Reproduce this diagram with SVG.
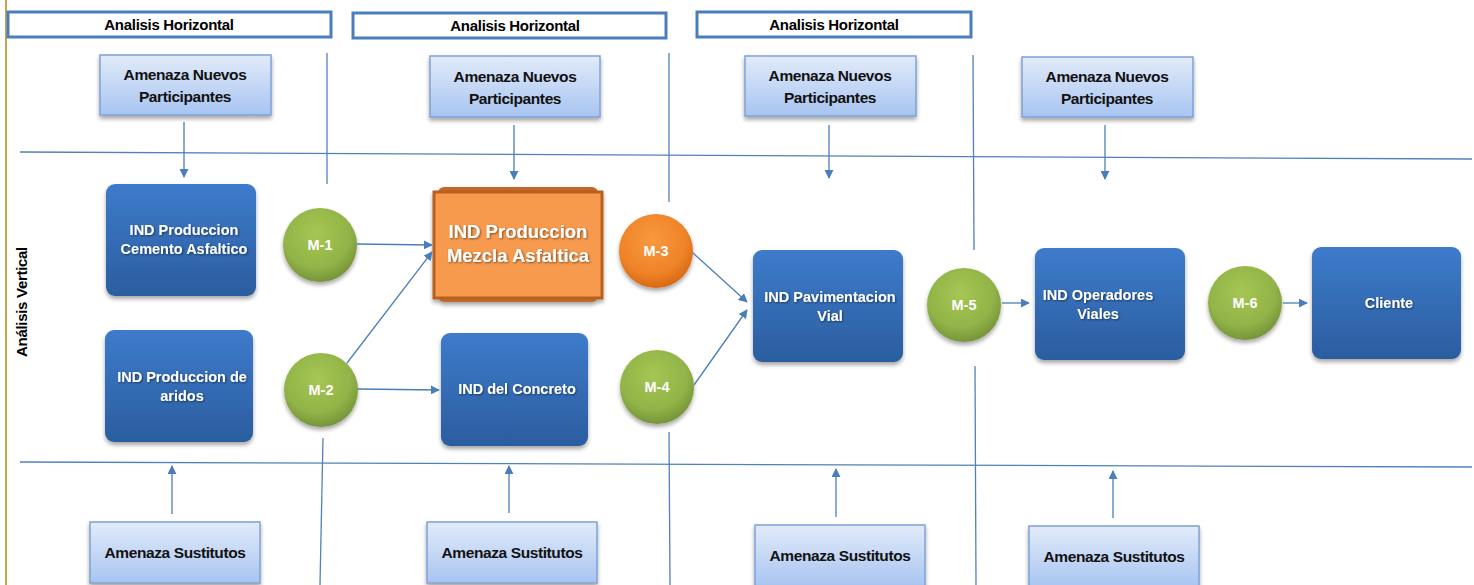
<svg xmlns="http://www.w3.org/2000/svg" width="1474" height="585" viewBox="0 0 1474 585">
  <style>
    .hdr { fill: #ffffff; stroke: #4a7ebb; stroke-width: 3; }
    .hdr-t { font-family: "Liberation Sans", Arial, sans-serif; font-weight: bold; font-size: 15px; fill: #000; text-anchor: middle; letter-spacing: -0.3px; }
    .threat { fill: url(#gThreat); stroke: #7ea3d6; stroke-width: 1.5; filter: url(#sh); }
    .threat-t { font-family: "Liberation Sans", Arial, sans-serif; font-weight: bold; font-size: 15.5px; fill: #111; text-anchor: middle; letter-spacing: -0.4px; }
    .ind { fill: url(#gBlue); filter: url(#sh); }
    .ind-t { font-family: "Liberation Sans", Arial, sans-serif; font-weight: bold; font-size: 14.5px; fill: #fff; text-anchor: middle; }
    .mg { fill: url(#gGreen); filter: url(#sh); }
    .mo { fill: url(#gOrange); filter: url(#sh); }
    .m-t { font-family: "Liberation Sans", Arial, sans-serif; font-weight: bold; font-size: 14.5px; fill: #fff; text-anchor: middle; }
    .grid { stroke: #4f81bd; stroke-width: 1.3; fill: none; }
    .link { stroke: #4a7ebb; stroke-width: 1.3; fill: none; marker-end: url(#arr); }
  </style>
  <defs>
    <marker id="arr" viewBox="0 0 10 10" refX="9" refY="5" markerWidth="9" markerHeight="9" markerUnits="userSpaceOnUse" orient="auto">
      <path d="M0,0 L10,5 L0,10 z" fill="#4a7ebb"/>
    </marker>
    <linearGradient id="gThreat" x1="0" y1="0" x2="0" y2="1">
      <stop offset="0" stop-color="#e2ebf9"/>
      <stop offset="1" stop-color="#a7c4f1"/>
    </linearGradient>
    <linearGradient id="gBlue" x1="0" y1="0" x2="0" y2="1">
      <stop offset="0" stop-color="#3d7bcb"/>
      <stop offset="1" stop-color="#2b5d9f"/>
    </linearGradient>
    <radialGradient id="gGreen" cx="0.45" cy="0.35" r="0.65">
      <stop offset="0" stop-color="#a6c654"/>
      <stop offset="0.7" stop-color="#91b347"/>
      <stop offset="1" stop-color="#76953a"/>
    </radialGradient>
    <radialGradient id="gOrange" cx="0.45" cy="0.35" r="0.65">
      <stop offset="0" stop-color="#f8983f"/>
      <stop offset="0.7" stop-color="#ef8328"/>
      <stop offset="1" stop-color="#d86a14"/>
    </radialGradient>
    <filter id="sh" x="-20%" y="-20%" width="140%" height="150%">
      <feGaussianBlur in="SourceAlpha" stdDeviation="2"/>
      <feOffset dx="0" dy="2.5" result="b"/>
      <feComponentTransfer><feFuncA type="linear" slope="0.35"/></feComponentTransfer>
      <feMerge><feMergeNode/><feMergeNode in="SourceGraphic"/></feMerge>
    </filter>
    <filter id="ts" x="-10%" y="-30%" width="120%" height="160%">
      <feGaussianBlur in="SourceAlpha" stdDeviation="0.8"/>
      <feOffset dx="0.5" dy="1" result="b"/>
      <feComponentTransfer><feFuncA type="linear" slope="0.5"/></feComponentTransfer>
      <feMerge><feMergeNode/><feMergeNode in="SourceGraphic"/></feMerge>
    </filter>
  </defs>

  <rect x="0" y="0" width="1474" height="585" fill="#ffffff"/>

  <!-- left frame edge -->
  <line x1="6" y1="0" x2="6" y2="585" stroke="#b8860b" stroke-width="1.5"/>

  <!-- section grid -->
  <g id="grid">
    <line class="grid" x1="20" y1="152" x2="1472" y2="159"/>
    <line class="grid" x1="20" y1="462" x2="1472" y2="467"/>
    <line class="grid" x1="327" y1="53" x2="327" y2="184"/>
    <line class="grid" x1="323" y1="438" x2="320" y2="585"/>
    <line class="grid" x1="669" y1="53" x2="669" y2="202"/>
    <line class="grid" x1="669" y1="432" x2="670" y2="585"/>
    <line class="grid" x1="973" y1="55" x2="974" y2="250"/>
    <line class="grid" x1="975" y1="366" x2="976" y2="585"/>
  </g>

  <!-- vertical axis label -->
  <text x="0" y="0" transform="translate(27,302) rotate(-90)" class="hdr-t">Análisis Vertical</text>

  <!-- section headers -->
  <g id="hdr1"><rect class="hdr" x="8" y="12" width="323" height="25"/><text class="hdr-t" x="169" y="30">Analisis Horizontal</text></g>
  <g id="hdr2"><rect class="hdr" x="353" y="13" width="313" height="25"/><text class="hdr-t" x="515" y="31">Analisis Horizontal</text></g>
  <g id="hdr3"><rect class="hdr" x="697" y="12" width="274" height="25"/><text class="hdr-t" x="834" y="30">Analisis Horizontal</text></g>

  <!-- entrant threats -->
  <g id="nuevos1"><rect class="threat" x="100" y="55" width="171" height="60"/><text class="threat-t" x="185" y="80">Amenaza Nuevos</text><text class="threat-t" x="185" y="102">Participantes</text></g>
  <g id="nuevos2"><rect class="threat" x="430" y="56" width="170" height="61"/><text class="threat-t" x="515" y="82">Amenaza Nuevos</text><text class="threat-t" x="515" y="104">Participantes</text></g>
  <g id="nuevos3"><rect class="threat" x="745" y="56" width="171" height="60"/><text class="threat-t" x="830" y="81">Amenaza Nuevos</text><text class="threat-t" x="830" y="103">Participantes</text></g>
  <g id="nuevos4"><rect class="threat" x="1022" y="57" width="171" height="60"/><text class="threat-t" x="1107" y="82">Amenaza Nuevos</text><text class="threat-t" x="1107" y="104">Participantes</text></g>

  <!-- substitute threats -->
  <g id="sust1"><rect class="threat" x="90" y="522" width="170" height="61"/><text class="threat-t" x="175" y="558">Amenaza Sustitutos</text></g>
  <g id="sust2"><rect class="threat" x="427" y="522" width="170" height="61"/><text class="threat-t" x="512" y="558">Amenaza Sustitutos</text></g>
  <g id="sust3"><rect class="threat" x="755" y="525" width="170" height="62"/><text class="threat-t" x="840" y="561">Amenaza Sustitutos</text></g>
  <g id="sust4"><rect class="threat" x="1029" y="526" width="170" height="62"/><text class="threat-t" x="1114" y="562">Amenaza Sustitutos</text></g>

  <!-- industries -->
  <g id="cemento"><rect class="ind" x="106" y="184" width="150" height="112" rx="9"/>
    <g filter="url(#ts)"><text class="ind-t" x="184" y="235">IND Produccion</text><text class="ind-t" x="184" y="254">Cemento Asfaltico</text></g></g>
  <g id="aridos"><rect class="ind" x="105" y="330" width="148" height="112" rx="9"/>
    <g filter="url(#ts)"><text class="ind-t" x="182" y="382">IND Produccion de</text><text class="ind-t" x="182" y="401">aridos</text></g></g>
  <g id="concreto"><rect class="ind" x="441" y="333" width="147" height="113" rx="9"/>
    <g filter="url(#ts)"><text class="ind-t" x="517" y="394">IND del Concreto</text></g></g>
  <g id="pavimentacion"><rect class="ind" x="753" y="250" width="150" height="112" rx="9"/>
    <g filter="url(#ts)"><text class="ind-t" x="830" y="302">IND Pavimentacion</text><text class="ind-t" x="830" y="321">Vial</text></g></g>
  <g id="operadores"><rect class="ind" x="1035" y="248" width="150" height="112" rx="9"/>
    <g filter="url(#ts)"><text class="ind-t" x="1098" y="300">IND Operadores</text><text class="ind-t" x="1098" y="319">Viales</text></g></g>
  <g id="cliente"><rect class="ind" x="1312" y="247" width="149" height="112" rx="9"/>
    <g filter="url(#ts)"><text class="ind-t" x="1389" y="308">Cliente</text></g></g>

  <!-- highlighted industry -->
  <g id="mezcla" filter="url(#sh)">
    <rect x="438" y="187" width="160" height="115" rx="6" fill="#c2692a"/>
    <rect x="434" y="192" width="168" height="106" fill="#f79a4e" stroke="#b8601f" stroke-width="3"/>
    <g filter="url(#ts)">
      <text x="518" y="238" font-family="Liberation Sans, Arial, sans-serif" font-weight="bold" font-size="18.5" fill="#fff" text-anchor="middle">IND Produccion</text>
      <text x="518" y="262" font-family="Liberation Sans, Arial, sans-serif" font-weight="bold" font-size="18.5" fill="#fff" text-anchor="middle">Mezcla Asfaltica</text>
    </g>
  </g>

  <!-- market links -->
  <g id="m1"><circle class="mg" cx="320" cy="245" r="37"/><text class="m-t" x="320" y="250">M-1</text></g>
  <g id="m2"><circle class="mg" cx="321" cy="390" r="37"/><text class="m-t" x="321" y="395">M-2</text></g>
  <g id="m3"><circle class="mo" cx="656" cy="251" r="37"/><text class="m-t" x="656" y="256">M-3</text></g>
  <g id="m4"><circle class="mg" cx="657" cy="387" r="37"/><text class="m-t" x="657" y="392">M-4</text></g>
  <g id="m5"><circle class="mg" cx="964" cy="305" r="37"/><text class="m-t" x="964" y="310">M-5</text></g>
  <g id="m6"><circle class="mg" cx="1245" cy="303" r="37"/><text class="m-t" x="1245" y="308">M-6</text></g>

  <!-- connectors -->
  <g id="connectors">
    <line class="link" x1="184" y1="122" x2="184" y2="177"/>
    <line class="link" x1="514" y1="125" x2="514" y2="179"/>
    <line class="link" x1="829" y1="125" x2="829" y2="178"/>
    <line class="link" x1="1105" y1="125" x2="1105" y2="179"/>
    <line class="link" x1="172" y1="514" x2="172" y2="466"/>
    <line class="link" x1="509" y1="513" x2="509" y2="466"/>
    <line class="link" x1="836" y1="517" x2="836" y2="469"/>
    <line class="link" x1="1113" y1="518" x2="1113" y2="471"/>
    <line class="link" x1="357" y1="244" x2="432" y2="245"/>
    <line class="link" x1="347" y1="363" x2="432" y2="252"/>
    <line class="link" x1="358" y1="389" x2="439" y2="390"/>
    <line class="link" x1="693" y1="253" x2="747" y2="302"/>
    <line class="link" x1="694" y1="385" x2="747" y2="310"/>
    <line class="link" x1="1002" y1="303" x2="1029" y2="303"/>
    <line class="link" x1="1283" y1="303" x2="1307" y2="303"/>
  </g>
</svg>
